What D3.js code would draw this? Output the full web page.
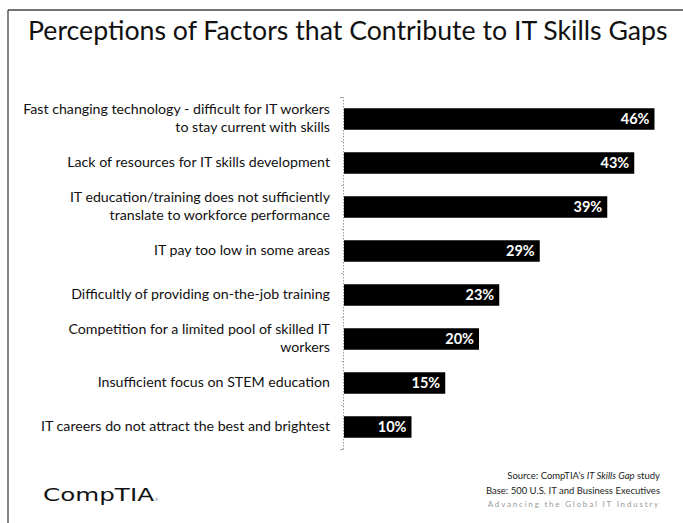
<!DOCTYPE html>
<html>
<head>
<meta charset="utf-8">
<script src="https://cdn.jsdelivr.net/npm/d3@7"></script>
<style>
  html, body { margin: 0; padding: 0; background: #fff; }
  svg { display: block; }
</style>
</head>
<body>
<svg id="chart" width="683" height="523"></svg>
<script>
// Survey factors, top to bottom (label lines) and share of respondents (%)
const factors = [
  ["Fast changing technology - difficult for IT workers", "to stay current with skills"],
  ["Lack of resources for IT skills development"],
  ["IT education/training does not sufficiently", "translate to workforce performance"],
  ["IT pay too low in some areas"],
  ["Difficultly of providing on-the-job training"],
  ["Competition for a limited pool of skilled IT", "workers"],
  ["Insufficient focus on STEM education"],
  ["IT careers do not attract the best and brightest"]
];
const shares = [46, 43, 39, 29, 23, 20, 15, 10];
const titleText = "Perceptions of Factors that Contribute to IT Skills Gaps";
const sourceLines = ["Base: 500 U.S. IT and Business Executives"];
const tagline = "Advancing the Global IT Industry";

const svg = d3.select("#chart");
const FONT = "Lato, 'Open Sans', sans-serif";

// slide frame: left and top rules
svg.append("line").attr("x1", 8).attr("x2", 8).attr("y1", 10).attr("y2", 523)
  .attr("stroke", "#444").attr("stroke-width", 1.3);
svg.append("line").attr("x1", 8).attr("x2", 683).attr("y1", 10).attr("y2", 10)
  .attr("stroke", "#444").attr("stroke-width", 1.3);

// title, sized to span the slide width
const title = svg.append("text")
  .attr("x", 28).attr("y", 40)
  .attr("font-family", FONT).attr("font-size", 24).attr("fill", "#111")
  .text(titleText);
const tw = title.node().getComputedTextLength();
title.attr("font-size", 24 * 640 / tw);

// scales
const idx = d3.range(shares.length);
const y = d3.scaleBand().domain(idx).range([97, 449]).padding(0);
const x = d3.scaleLinear().domain([0, 50]).range([344, 681.5]);
const barH = 21.5;

// axis along the category edge
const edge = d3.scaleLinear().domain([0, shares.length]).range([97, 449]);
const axis = svg.append("g").attr("transform", `translate(${x(0) - 1},0)`)
  .call(d3.axisLeft(edge).tickValues(d3.range(shares.length + 1)).tickSize(3).tickFormat(""));
axis.selectAll("path, line").attr("stroke", "#999").attr("stroke-dasharray", "1.5,1.5");

// bars
svg.append("g").selectAll("rect").data(idx).join("rect")
  .attr("x", x(0))
  .attr("y", i => y(i) + y.bandwidth() / 2 - barH / 2)
  .attr("width", i => x(shares[i]) - x(0))
  .attr("height", barH)
  .attr("fill", "#000");

// value labels inside bar ends
svg.append("g").selectAll("text").data(idx).join("text")
  .attr("x", i => x(shares[i]) - 5)
  .attr("y", i => y(i) + y.bandwidth() / 2)
  .attr("dy", "0.36em")
  .attr("text-anchor", "end")
  .attr("font-family", FONT).attr("font-weight", "bold").attr("font-size", 14.5)
  .attr("fill", "#fff")
  .text(i => shares[i] + "%");

// category labels, right aligned
const lineGap = 18;
const lab = svg.append("g").selectAll("text").data(idx).join("text")
  .attr("text-anchor", "end")
  .attr("font-family", FONT).attr("font-size", 14.2).attr("fill", "#111")
  .attr("y", i => y(i) + y.bandwidth() / 2 - (factors[i].length - 1) * lineGap / 2 - 1);
lab.each(function(i) {
  const t = d3.select(this);
  factors[i].forEach((s, k) => {
    t.append("tspan").attr("x", 330).attr("dy", k === 0 ? "0.36em" : lineGap).text(s);
  });
});

// footer: logo wordmark
svg.append("text").attr("x", 43).attr("y", 501)
  .attr("font-family", "'DejaVu Sans', sans-serif").attr("font-size", 17.5)
  .attr("fill", "#111")
  .attr("textLength", 111).attr("lengthAdjust", "spacingAndGlyphs")
  .text("CompTIA");
svg.append("text").attr("x", 155).attr("y", 501)
  .attr("font-family", FONT).attr("font-size", 4).attr("fill", "#555").text("®");

// footer: source note
const src = svg.append("text").attr("x", 660).attr("y", 479)
  .attr("text-anchor", "end")
  .attr("font-family", FONT).attr("font-size", 9.5).attr("fill", "#222");
src.append("tspan").text("Source: CompTIA\u2019s ");
src.append("tspan").attr("font-style", "italic").text("IT Skills Gap");
src.append("tspan").text(" study");
svg.append("g").selectAll("text").data(sourceLines).join("text")
  .attr("x", 660).attr("y", (d, k) => 494 + k * 14)
  .attr("text-anchor", "end")
  .attr("font-family", FONT).attr("font-size", 9.5).attr("fill", "#222")
  .text(d => d);
svg.append("text").attr("x", 660).attr("y", 507)
  .attr("text-anchor", "end")
  .attr("font-family", FONT).attr("font-size", 8).attr("fill", "#999")
  .attr("letter-spacing", 1.8)
  .text(tagline);
</script>
</body>
</html>
